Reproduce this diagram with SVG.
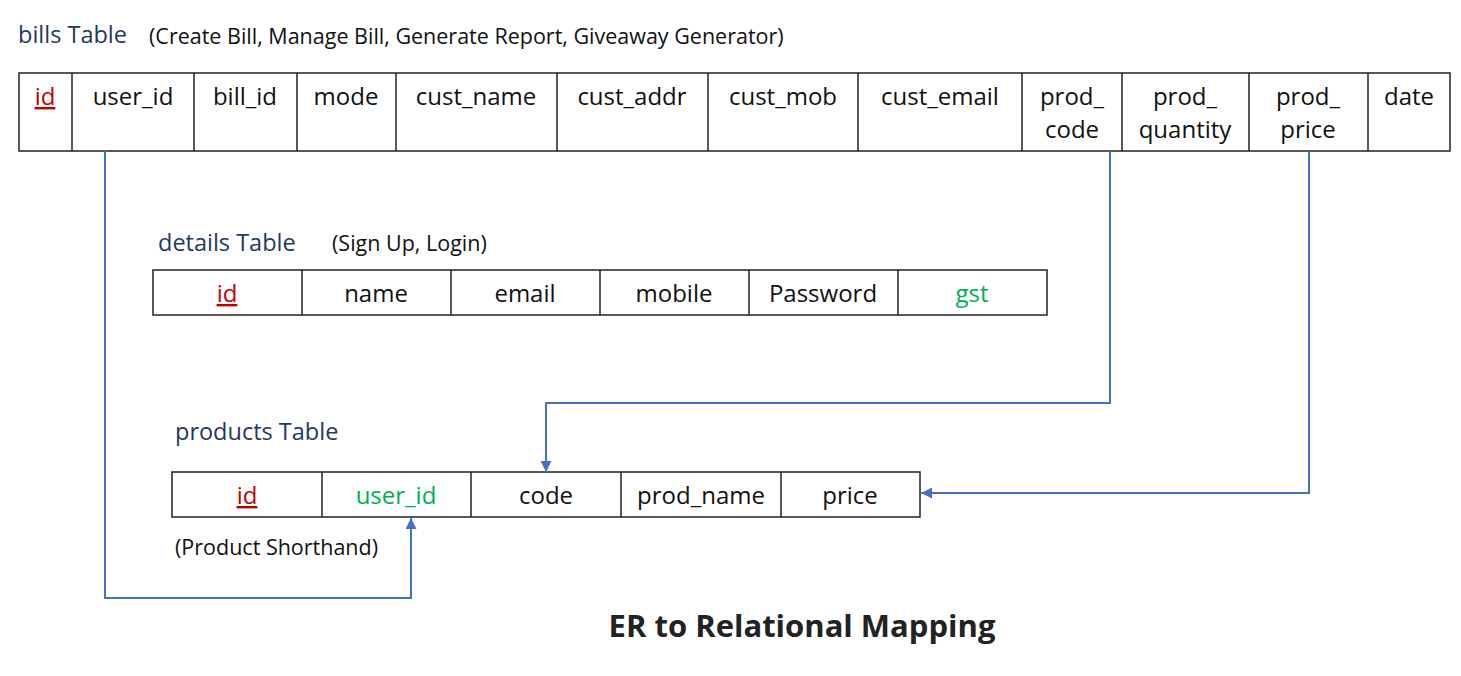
<svg xmlns="http://www.w3.org/2000/svg" width="1461" height="676" viewBox="0 0 1461 676">
<style>
.cell{fill:#fff;stroke:#222;stroke-width:1.5}
.t{font-family:"Open Sans","Noto Sans",sans-serif;font-size:24px;fill:#111;text-anchor:middle}
.pk{fill:#C00000;text-decoration:underline}
.fk{fill:#00B050}
.title{font-family:"Open Sans","Noto Sans",sans-serif;font-size:23.5px;fill:#1F3864}
.note{font-family:"Open Sans","Noto Sans",sans-serif;font-size:21.5px;fill:#111}
.h{font-family:"Open Sans","Noto Sans",sans-serif;font-size:31px;font-weight:bold;fill:#222;text-anchor:middle}
.conn{fill:none;stroke:#4472C4;stroke-width:2}
</style>
<defs>
<marker id="arr" viewBox="0 0 10 10" refX="10" refY="5" markerWidth="5.5" markerHeight="5.5" orient="auto" markerUnits="strokeWidth">
<path d="M0,0 L10,5 L0,10 z" fill="#4472C4"/>
</marker>
</defs>
<rect width="1461" height="676" fill="#fff"/>

<g id="bills">
<text class="title" x="18" y="43">bills Table</text>
<text class="note" x="149" y="44">(Create Bill, Manage Bill, Generate Report, Giveaway Generator)</text>
<rect class="cell" x="19" y="73" width="1431" height="78"/>
<g stroke="#222" stroke-width="1.5">
<line x1="72" y1="73" x2="72" y2="151"/>
<line x1="194" y1="73" x2="194" y2="151"/>
<line x1="297" y1="73" x2="297" y2="151"/>
<line x1="396" y1="73" x2="396" y2="151"/>
<line x1="557" y1="73" x2="557" y2="151"/>
<line x1="708" y1="73" x2="708" y2="151"/>
<line x1="858" y1="73" x2="858" y2="151"/>
<line x1="1022" y1="73" x2="1022" y2="151"/>
<line x1="1122" y1="73" x2="1122" y2="151"/>
<line x1="1249" y1="73" x2="1249" y2="151"/>
<line x1="1368" y1="73" x2="1368" y2="151"/>
</g>
<text class="t pk" x="45" y="105">id</text>
<text class="t" x="133" y="105">user_id</text>
<text class="t" x="245" y="105">bill_id</text>
<text class="t" x="346" y="105">mode</text>
<text class="t" x="476" y="105">cust_name</text>
<text class="t" x="632" y="105">cust_addr</text>
<text class="t" x="783" y="105">cust_mob</text>
<text class="t" x="940" y="105">cust_email</text>
<text class="t" x="1072" y="105">prod_</text>
<text class="t" x="1072" y="138">code</text>
<text class="t" x="1185" y="105">prod_</text>
<text class="t" x="1185" y="138">quantity</text>
<text class="t" x="1308" y="105">prod_</text>
<text class="t" x="1308" y="138">price</text>
<text class="t" x="1409" y="105">date</text>
</g>

<g id="details">
<text class="title" x="158" y="251">details Table</text>
<text class="note" x="332" y="251">(Sign Up, Login)</text>
<rect class="cell" x="153" y="270" width="894" height="45"/>
<g stroke="#222" stroke-width="1.5">
<line x1="302" y1="270" x2="302" y2="315"/>
<line x1="451" y1="270" x2="451" y2="315"/>
<line x1="600" y1="270" x2="600" y2="315"/>
<line x1="749" y1="270" x2="749" y2="315"/>
<line x1="898" y1="270" x2="898" y2="315"/>
</g>
<text class="t pk" x="227" y="302">id</text>
<text class="t" x="376" y="302">name</text>
<text class="t" x="525" y="302">email</text>
<text class="t" x="674" y="302">mobile</text>
<text class="t" x="823" y="302">Password</text>
<text class="t fk" x="972" y="302">gst</text>
</g>

<g id="products">
<text class="title" x="175" y="440">products Table</text>
<text class="note" x="175" y="555">(Product Shorthand)</text>
<rect class="cell" x="172" y="472" width="748" height="45"/>
<g stroke="#222" stroke-width="1.5">
<line x1="322" y1="472" x2="322" y2="517"/>
<line x1="471" y1="472" x2="471" y2="517"/>
<line x1="621" y1="472" x2="621" y2="517"/>
<line x1="781" y1="472" x2="781" y2="517"/>
</g>
<text class="t pk" x="247" y="504">id</text>
<text class="t fk" x="396" y="504">user_id</text>
<text class="t" x="546" y="504">code</text>
<text class="t" x="701" y="504">prod_name</text>
<text class="t" x="850" y="504">price</text>
</g>

<g id="connectors">
<polyline class="conn" points="105,151 105,598 411,598 411,518" marker-end="url(#arr)"/>
<polyline class="conn" points="1110,151 1110,403 546,403 546,472" marker-end="url(#arr)"/>
<polyline class="conn" points="1309,151 1309,493 921,493" marker-end="url(#arr)"/>
</g>

<text class="h" x="802" y="637">ER to Relational Mapping</text>
</svg>
